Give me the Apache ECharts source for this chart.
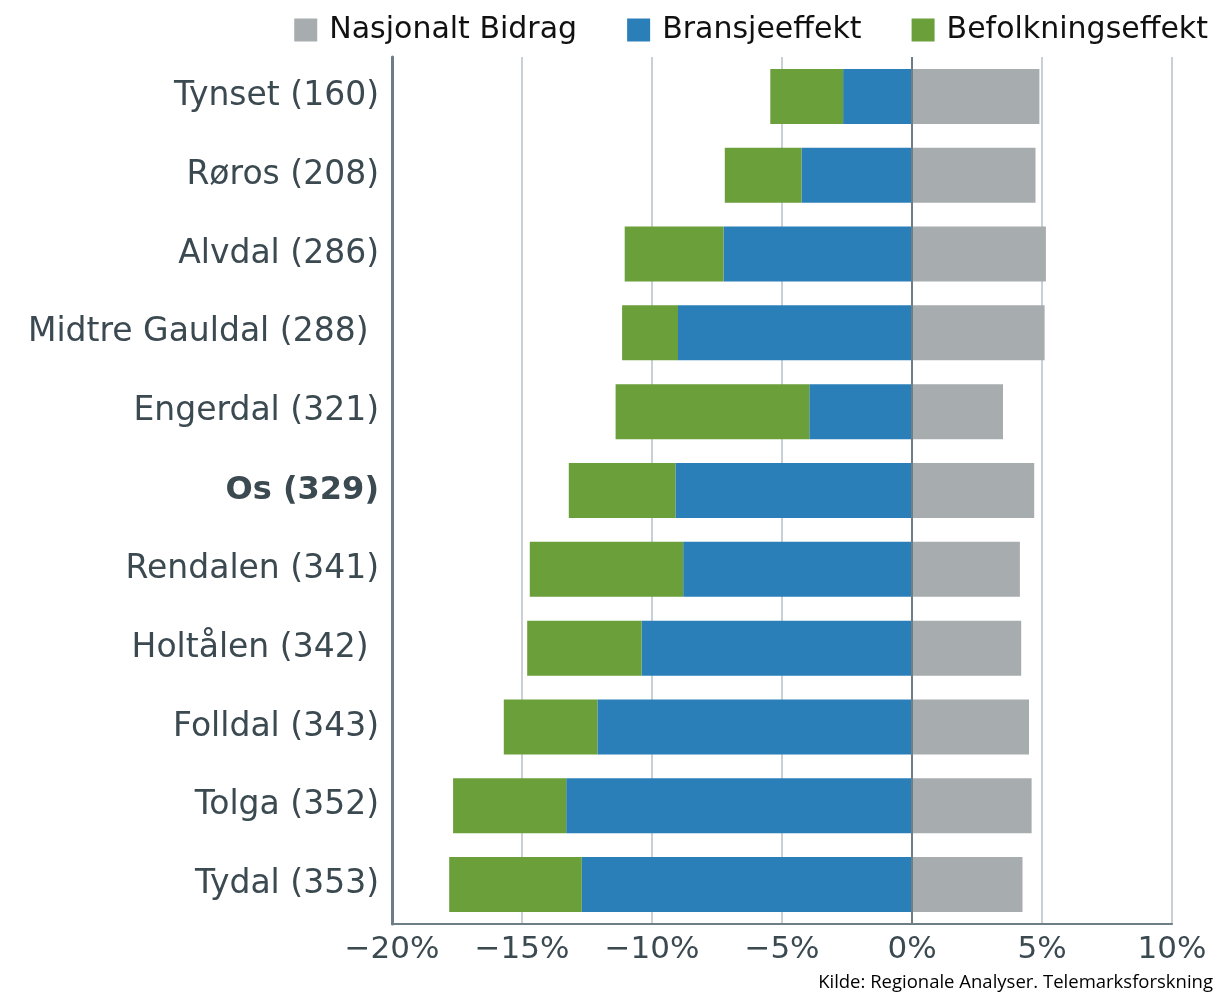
<!DOCTYPE html>
<html>
<head>
<meta charset="utf-8">
<script src="https://cdn.jsdelivr.net/npm/echarts@6/dist/echarts.min.js"></script>
<style>
  html, body { margin: 0; padding: 0; background: #fff; }
  #main { width: 1217px; height: 992px; }
</style>
</head>
<body>
<div id="main"></div>
<script>
  // kommuner, fra topp til bunn
  const kommuner = ['Tynset (160)', 'Røros (208)', 'Alvdal (286)', 'Midtre Gauldal (288) ', 'Engerdal (321)',
    'Os (329)', 'Rendalen (341)', 'Holtålen (342) ', 'Folldal (343)', 'Tolga (352)', 'Tydal (353)'];
  const nasjonalt = [4.9, 4.75, 5.15, 5.1, 3.5, 4.7, 4.15, 4.2, 4.5, 4.6, 4.25];
  const bransje = [-2.65, -4.25, -7.25, -9.0, -3.95, -9.1, -8.8, -10.4, -12.1, -13.3, -12.7];
  const befolkning = [-2.8, -2.95, -3.8, -2.15, -7.45, -4.1, -5.9, -4.4, -3.6, -4.35, -5.1];
  const tickLabels = ['−20%', '−15%', '−10%', '−5%', '0%', '5%', '10%'];

  const chart = echarts.init(document.getElementById('main'));
  const txt = '#3b4950';
  const font = '"DejaVu Sans", sans-serif';

  const option = {
    animation: false,
    textStyle: { fontFamily: font },
    legend: {
      data: ['Nasjonalt Bidrag', 'Bransjeeffekt', 'Befolkningseffekt'],
      top: 10,
      right: 4,
      itemWidth: 23,
      itemHeight: 23,
      itemGap: 50,
      icon: 'rect',
      textStyle: { fontSize: 30, color: '#111', fontFamily: font, padding: [0, 0, 0, 7] }
    },
    grid: { left: 392, right: 45, top: 57, bottom: 68 },
    xAxis: {
      type: 'value',
      min: -20,
      max: 10,
      interval: 5,
      axisLine: { show: true, onZero: false, lineStyle: { color: '#6d7e87', width: 2 } },
      axisTick: { show: false },
      splitLine: { show: true, lineStyle: { color: '#c9d0d5', width: 2 } },
      axisLabel: {
        fontSize: 31,
        color: txt,
        margin: 10,
        formatter: function (v) { return tickLabels[(v + 20) / 5]; }
      }
    },
    yAxis: {
      type: 'category',
      data: kommuner,
      inverse: true,
      axisLine: { show: true, onZero: false, lineStyle: { color: '#6d7e87', width: 3 } },
      axisTick: { show: false },
      axisLabel: {
        fontSize: 33,
        color: txt,
        margin: 13,
        formatter: function (v) {
          return v === 'Os (329)' ? '{b|' + v + '}' : v;
        },
        rich: { b: { fontWeight: 'bold', fontSize: 32, color: txt } }
      }
    },
    series: [
      {
        name: 'Nasjonalt Bidrag',
        type: 'bar',
        stack: 'tot',
        barWidth: 55,
        itemStyle: { color: '#a7acaf' },
        data: nasjonalt
      },
      {
        name: 'Bransjeeffekt',
        type: 'bar',
        stack: 'tot',
        barWidth: 55,
        itemStyle: { color: '#2a7fb8' },
        data: bransje
      },
      {
        name: 'Befolkningseffekt',
        type: 'bar',
        stack: 'tot',
        barWidth: 55,
        itemStyle: { color: '#6a9f3a' },
        data: befolkning,
        markLine: {
          silent: true,
          symbol: 'none',
          label: { show: false },
          lineStyle: { color: '#6d7e87', width: 2, type: 'solid' },
          data: [{ xAxis: 0 }]
        }
      }
    ],
    graphic: [
      {
        type: 'text',
        right: 4,
        bottom: 0,
        style: {
          text: 'Kilde: Regionale Analyser. Telemarksforskning',
          fontSize: 18.5,
          fill: '#000',
          fontFamily: '"Open Sans", "Noto Sans", sans-serif'
        }
      }
    ]
  };

  chart.setOption(option);
</script>
</body>
</html>
